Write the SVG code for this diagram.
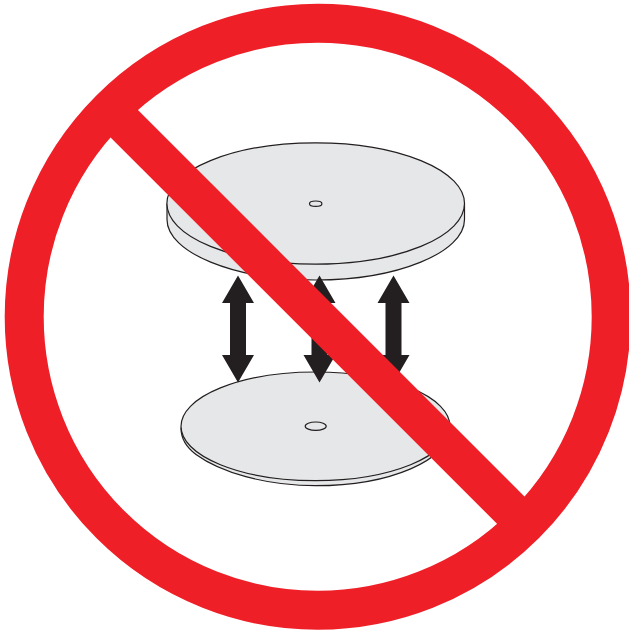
<svg xmlns="http://www.w3.org/2000/svg" width="629" height="633" viewBox="0 0 629 633">
<style>
.d{fill:#e6e7e8;stroke:#231f20;stroke-width:1.2}
.a{fill:#231f20;stroke:none}
</style>
<rect width="629" height="633" fill="#fff"/>
<g id="top-disc">
<path class="d" d="M167 204V219.500C167 252.500 234 280 315.700 280S464.500 252.500 464.500 219.500V204Z"/>
<ellipse class="d" cx="315.700" cy="203.500" rx="148.800" ry="60.700"/>
<ellipse class="d" cx="315.700" cy="203.700" rx="6.200" ry="2.700"/>
</g>
<g id="bottom-disc">
<path class="d" d="M181 428C181 438 186 447 196 454.500C220 472 265 485.700 315.500 485.700C390 485.700 450 460 450 428Z"/>
<ellipse class="d" cx="315.500" cy="426.300" rx="134.500" ry="54.300"/>
<ellipse class="d" cx="315.700" cy="426.200" rx="10.500" ry="4.200"/>
</g>
<g id="connectors">
<path class="a" d="M238 275.500L254 303H246V355H254L238 382.500L222 355H230V303H222Z"/>
<path class="a" d="M319.500 275.500L335.500 303H327.500V355H335.500L319.500 382.500L303.500 355H311.500V303H303.500Z"/>
<path class="a" d="M393.500 275.500L409.500 303H401.500V355H409.500L393.500 382.500L377.500 355H385.500V303H377.500Z"/>
</g>
<g id="prohibition">
<circle cx="317.700" cy="316.800" r="293.500" fill="none" stroke="#ef1f27" stroke-width="39"/>
<path d="M118 117.500L518 517.400" fill="none" stroke="#ef1f27" stroke-width="38.700"/>
</g>
</svg>
